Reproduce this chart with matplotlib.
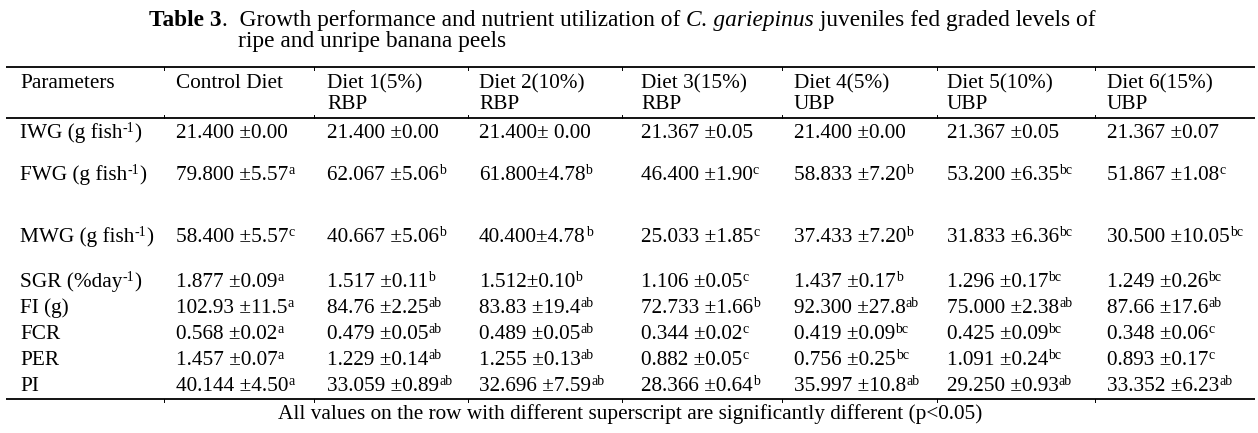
import matplotlib
matplotlib.use('Agg')
import matplotlib.pyplot as plt

plt.rcParams['font.family'] = ['Liberation Serif', 'DejaVu Serif']

# table contents
headers = [('Parameters', ''), ('Control Diet', ''), ('Diet 1(5%)', 'RBP'),
           ('Diet 2(10%)', 'RBP'), ('Diet 3(15%)', 'RBP'), ('Diet 4(5%)', 'UBP'),
           ('Diet 5(10%)', 'UBP'), ('Diet 6(15%)', 'UBP')]
params = [('IWG (g fish', '-1', ')'), ('FWG (g fish', '-1', ')'),
          ('MWG (g fish', '-1', ')'), ('SGR (%day', '-1', ')'),
          ('FI (g)', '', ''), ('FCR', '', ''), ('PER', '', ''), ('PI', '', '')]
iwg = ['21.400 ±0.00', '21.400 ±0.00', '21.400± 0.00', '21.367 ±0.05',
       '21.400 ±0.00', '21.367 ±0.05', '21.367 ±0.07']
iwg_sup = ['', '', '', '', '', '', '']
fwg = ['79.800 ±5.57', '62.067 ±5.06', '61.800±4.78', '46.400 ±1.90',
       '58.833 ±7.20', '53.200 ±6.35', '51.867 ±1.08']
fwg_sup = ['a', 'b', 'b', 'c', 'b', 'bc', 'c']
mwg = ['58.400 ±5.57', '40.667 ±5.06', '40.400±4.78', '25.033 ±1.85',
       '37.433 ±7.20', '31.833 ±6.36', '30.500 ±10.05']
mwg_sup = ['c', 'b', 'b', 'c', 'b', 'bc', 'bc']
sgr = ['1.877 ±0.09', '1.517 ±0.11', '1.512±0.10', '1.106 ±0.05',
       '1.437 ±0.17', '1.296 ±0.17', '1.249 ±0.26']
sgr_sup = ['a', 'b', 'b', 'c', 'b', 'bc', 'bc']
fi = ['102.93 ±11.5', '84.76 ±2.25', '83.83 ±19.4', '72.733 ±1.66',
      '92.300 ±27.8', '75.000 ±2.38', '87.66 ±17.6']
fi_sup = ['a', 'ab', 'ab', 'b', 'ab', 'ab', 'ab']
fcr = ['0.568 ±0.02', '0.479 ±0.05', '0.489 ±0.05', '0.344 ±0.02',
       '0.419 ±0.09', '0.425 ±0.09', '0.348 ±0.06']
fcr_sup = ['a', 'ab', 'ab', 'c', 'bc', 'bc', 'c']
per = ['1.457 ±0.07', '1.229 ±0.14', '1.255 ±0.13', '0.882 ±0.05',
       '0.756 ±0.25', '1.091 ±0.24', '0.893 ±0.17']
per_sup = ['a', 'ab', 'ab', 'c', 'bc', 'bc', 'c']
pi = ['40.144 ±4.50', '33.059 ±0.89', '32.696 ±7.59', '28.366 ±0.64',
      '35.997 ±10.8', '29.250 ±0.93', '33.352 ±6.23']
pi_sup = ['a', 'ab', 'ab', 'b', 'ab', 'ab', 'ab']

rows = [(iwg, iwg_sup), (fwg, fwg_sup), (mwg, mwg_sup), (sgr, sgr_sup),
        (fi, fi_sup), (fcr, fcr_sup), (per, per_sup), (pi, pi_sup)]

title1 = [('Table 3', 'bold'), ('.  Growth performance and nutrient utilization of ', 'normal'),
          ('C. gariepinus', 'italic'), (' juveniles fed graded levels of', 'normal')]
title2 = 'ripe and unripe banana peels'
note = 'All values on the row with different superscript are significantly different (p<0.05)'

# layout (pixels)
col_x = [20, 176, 327, 479, 641, 794, 947, 1107]
sep_x = [164, 314, 468, 622, 782, 937, 1095]
row_y = [138, 180, 242, 287, 313, 339, 365, 391]
fs = 15.3
fs_sup = 10
fs_title = 16.8

fig = plt.figure(figsize=(12.58, 4.33), dpi=100)
ax = fig.add_axes([0, 0, 1, 1])
ax.set_xlim(0, 1258)
ax.set_ylim(433, 0)
ax.axis('off')
rend = fig.canvas.get_renderer()


def seg_width(s, **kw):
    """advance width of a string in pixels (spaces included)"""
    t = ax.text(0, 0, '|' + s + '|', **kw)
    w1 = t.get_window_extent(rend).width
    t.set_text('||')
    w2 = t.get_window_extent(rend).width
    t.remove()
    return w1 - w2


def draw_segs(x, y, segs):
    """segs: list of (text, size, style, weight, raise)"""
    for s, size, style, weight, up in segs:
        if not s:
            continue
        kw = dict(fontsize=size, fontstyle=style, fontweight=weight)
        ax.text(x, y - up, s, va='baseline', **kw)
        x += seg_width(s, **kw)


# title
segs = []
for s, kind in title1:
    segs.append((s, fs_title, 'italic' if kind == 'italic' else 'normal',
                 'bold' if kind == 'bold' else 'normal', 0))
draw_segs(149, 26, segs)
ax.text(238, 47, title2, fontsize=fs_title, va='baseline')

# rules with the little column ticks
for y, d in [(67, 3), (118, -3), (399, 3)]:
    ax.plot([6, 1255], [y, y], color='black', lw=1.3, solid_capstyle='butt')
    for x in sep_x:
        ax.plot([x, x], [y, y + d], color='black', lw=0.7)

for x, (h1, h2) in zip(col_x, headers):
    ax.text(x, 88, h1, fontsize=fs, va='baseline')
    if h2:
        ax.text(x, 109, h2, fontsize=fs, va='baseline')

for y, (p0, p1, p2), (vals, sups) in zip(row_y, params, rows):
    draw_segs(col_x[0], y, [(p0, fs, 'normal', 'normal', 0),
                            (p1, fs_sup, 'normal', 'normal', 6),
                            (p2, fs, 'normal', 'normal', 0)])
    for x, v, s in zip(col_x[1:], vals, sups):
        draw_segs(x, y, [(v, fs, 'normal', 'normal', 0),
                         (s, fs_sup, 'normal', 'normal', 6)])

ax.text(630, 419, note, fontsize=fs, va='baseline', ha='center')

fig.savefig('out.png', dpi=100)
